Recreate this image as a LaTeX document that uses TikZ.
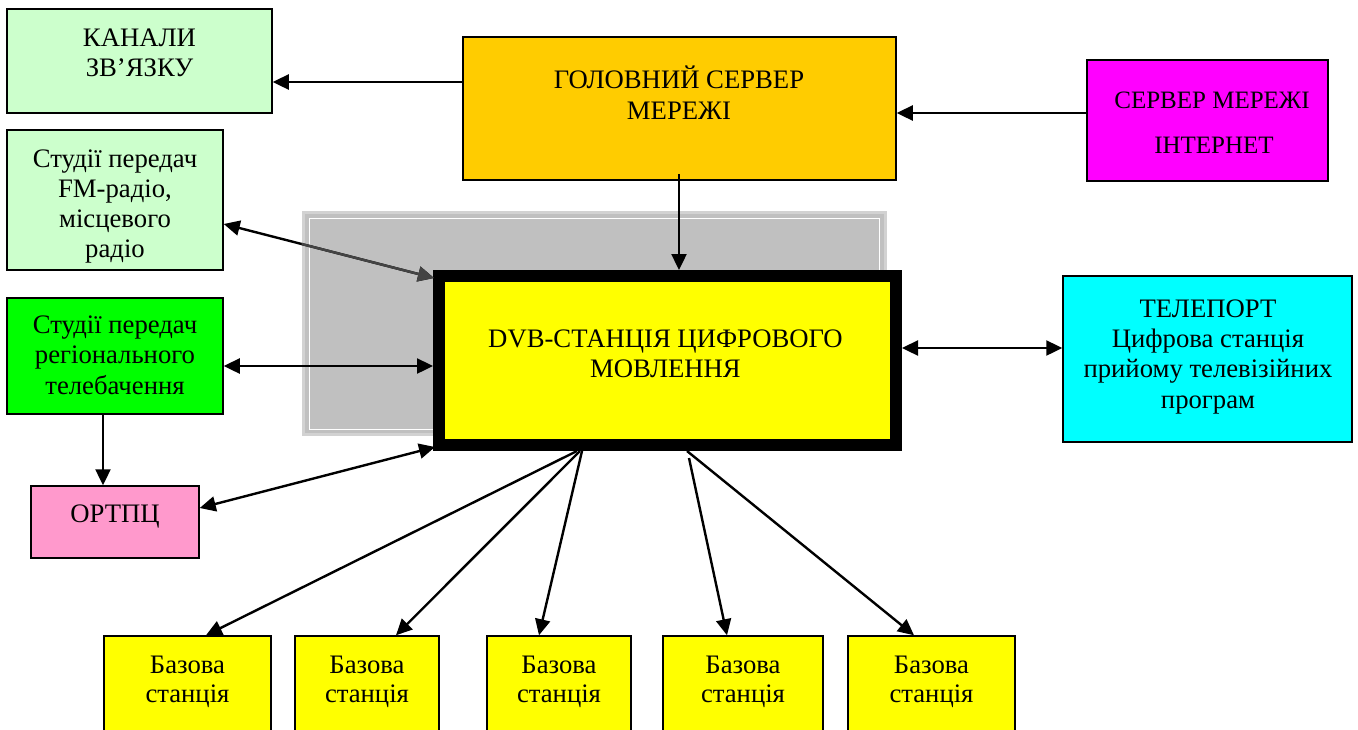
\documentclass[tikz,border=0pt]{standalone}
\usepackage{fontspec}
\setmainfont{Liberation Serif}
\usetikzlibrary{arrows.meta}
\definecolor{lgreen}{HTML}{CCFFCC}
\definecolor{gold}{HTML}{FFCC00}
\definecolor{magn}{HTML}{FF00FF}
\definecolor{bgreen}{HTML}{00FF00}
\definecolor{pinkc}{HTML}{FF99CC}
\definecolor{yel}{HTML}{FFFF00}
\definecolor{cyn}{HTML}{00FFFF}
\definecolor{shade}{HTML}{C0C0C0}
\definecolor{shadeedge}{HTML}{D2D2D2}
\definecolor{darkline}{HTML}{444444}
\tikzset{
  box/.style={draw=black, line width=1.5pt, rectangle, inner sep=0pt},
  txt/.style={anchor=base, inner sep=0pt, font=\fontsize{26.7}{30}\selectfont},
  stxt/.style={anchor=base, inner sep=0pt, font=\fontsize{25}{30}\selectfont},
  arr/.style={line width=2.4pt, -{Triangle[length=16pt,width=15pt]}},
  darr/.style={line width=2.4pt, {Triangle[length=16pt,width=15pt]}-{Triangle[length=16pt,width=15pt]}},
}
\newcommand\mytxt[3]{\node[txt] at (#1,#2) {#3};}
\begin{document}
\begin{tikzpicture}[x=1pt,y=-1pt]
\useasboundingbox (0,0) rectangle (1358,729);
% shaded background behind the DVB station
\node[draw=shadeedge, line width=3pt, fill=shade, minimum width=582pt, minimum height=222pt, inner sep=0pt] (shadow) at (594,323) {};
\draw[white, line width=1pt] (309,218) rectangle (879,429);
% boxes
\node[box, fill=lgreen, minimum width=265pt, minimum height=104pt] (kan) at (139.5,61) {};
\node[box, fill=gold, minimum width=433pt, minimum height=143pt] (head) at (679.5,108.5) {};
\node[box, fill=magn, minimum width=241pt, minimum height=121pt] (inet) at (1207.5,120.5) {};
\node[box, fill=lgreen, minimum width=216pt, minimum height=140pt] (fm) at (115,200) {};
\node[box, fill=bgreen, minimum width=216pt, minimum height=116pt] (reg) at (115,356) {};
\node[box, fill=pinkc, minimum width=168pt, minimum height=72pt] (ortpc) at (115,522) {};
\node[draw=black, line width=12pt, fill=yel, minimum width=457pt, minimum height=169pt, inner sep=0pt] (dvb) at (667.5,360.5) {};
\node[box, fill=cyn, minimum width=289pt, minimum height=166pt] (tele) at (1207.5,359) {};
\node[box, fill=yel, minimum width=167pt, minimum height=110pt] (b1) at (187.5,691) {};
\node[box, fill=yel, minimum width=144pt, minimum height=110pt] (b2) at (367,691) {};
\node[box, fill=yel, minimum width=144pt, minimum height=110pt] (b3) at (559,691) {};
\node[box, fill=yel, minimum width=160pt, minimum height=110pt] (b4) at (743,691) {};
\node[box, fill=yel, minimum width=167pt, minimum height=110pt] (b5) at (931.5,691) {};
% texts
\mytxt{139.5}{46}{КАНАЛИ}
\mytxt{139.5}{76}{ЗВ’ЯЗКУ}
\mytxt{679}{88}{ГОЛОВНИЙ СЕРВЕР}
\mytxt{679}{119}{МЕРЕЖІ}
\node[stxt] at (1212,108) {СЕРВЕР МЕРЕЖІ};
\node[stxt] at (1214,153) {ІНТЕРНЕТ};
\mytxt{115}{167}{Студії передач}
\mytxt{115}{197}{FM-радіо,}
\mytxt{115}{227}{місцевого}
\mytxt{115}{257}{радіо}
\mytxt{115}{333}{Студії передач}
\mytxt{115}{363}{регіонального}
\mytxt{115}{394}{телебачення}
\mytxt{115}{522}{ОРТПЦ}
\mytxt{665.5}{347}{DVB-СТАНЦІЯ ЦИФРОВОГО}
\mytxt{665.5}{377}{МОВЛЕННЯ}
\mytxt{1208}{317}{ТЕЛЕПОРТ}
\mytxt{1208}{347}{Цифрова станція}
\mytxt{1208}{377}{прийому телевізійних}
\mytxt{1208}{408}{програм}
\foreach \b/\x in {b1/187.5,b2/367,b3/559,b4/743,b5/931.5}{
  \mytxt{\x}{673}{Базова}
  \mytxt{\x}{702}{станція}
}
% connectors
\draw[arr] ([yshift=26.5pt]head.west) -- ([yshift=-21pt]kan.east);
\draw[arr] ([yshift=7.5pt]inet.west) -- ([yshift=-4.5pt]head.east);
\draw[arr] ([xshift=-0.5pt,yshift=7pt]head.south) -- ([xshift=11.5pt]dvb.north);
\draw[darr] ([yshift=-24pt]fm.east) -- ([yshift=-8pt,xshift=1pt]dvb.north west);
\begin{scope}
  \clip (shadow.north west) rectangle (shadow.south east);
  \draw[darr, darkline] ([yshift=-24pt]fm.east) -- ([yshift=-8pt,xshift=1pt]dvb.north west);
\end{scope}
\draw[darr] ([yshift=-10pt]reg.east) -- ([yshift=-5.5pt]dvb.west);
\draw[arr] ([xshift=-12pt]reg.south) -- ([xshift=-12pt]ortpc.north);
\draw[darr] ([yshift=14pt]ortpc.east) -- ([yshift=4pt,xshift=2pt]dvb.south west);
\draw[darr] ([yshift=12.5pt]dvb.east) -- ([yshift=11pt]tele.west);
\draw[arr] ([xshift=-90.5pt]dvb.south) -- ([xshift=18.5pt]b1.north);
\draw[arr] ([xshift=-87.5pt]dvb.south) -- ([xshift=29pt]b2.north);
\draw[arr] ([xshift=-85.5pt]dvb.south) -- ([xshift=-20pt]b3.north);
\draw[arr] ([xshift=21.5pt,yshift=-7pt]dvb.south) -- ([xshift=-16pt]b4.north);
\draw[arr] ([xshift=19.5pt]dvb.south) -- ([xshift=-17.5pt]b5.north);
\end{tikzpicture}
\end{document}
